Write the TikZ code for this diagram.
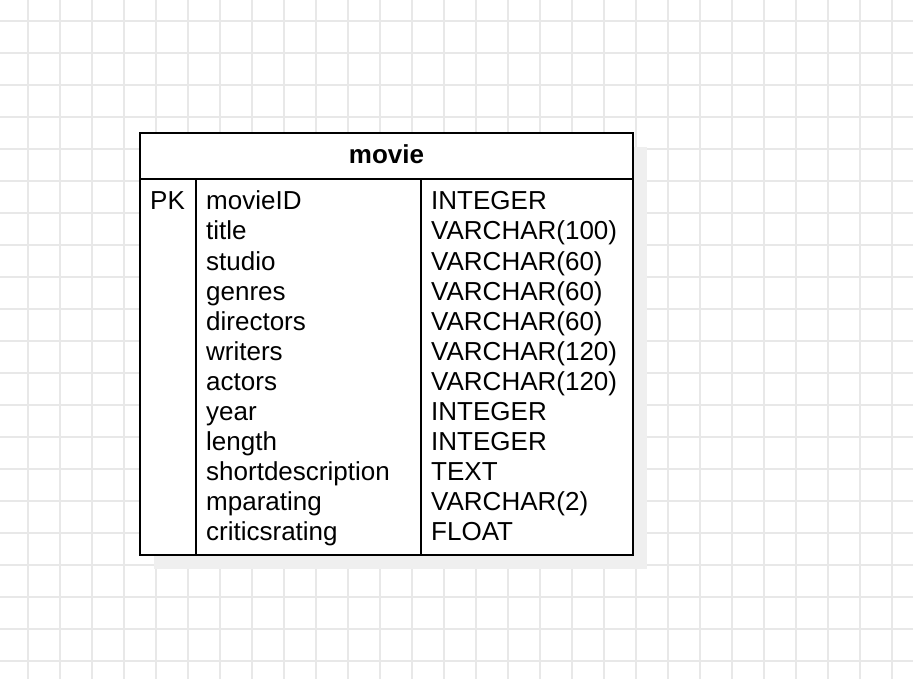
\documentclass[tikz,border=0pt]{standalone}
\usepackage{fontspec}
\setmainfont{Liberation Sans}
\definecolor{gridgray}{HTML}{E8E8E8}
\definecolor{shadowgray}{HTML}{EFEFEF}
\begin{document}
\begin{tikzpicture}[x=1pt,y=-1pt,
    cell/.style={inner sep=0pt,font=\fontsize{26}{30}\selectfont}]
                \useasboundingbox (0,0) rectangle (913,679);
                %% grid
                \foreach \gx in {28,60,...,892} \draw[gridgray,line width=1.5pt] (\gx,0) -- (\gx,679);
                \foreach \gy in {21,53,...,661} \draw[gridgray,line width=1.5pt] (0,\gy) -- (913,\gy);
                %% shadow
                \fill[shadowgray] (154,147) rectangle (647,569);
                %% table
                \draw[line width=2pt,fill=white] (140,133) rectangle (633,555);
                \draw[line width=2pt] (140,179) -- (633,179);
                \draw[line width=2pt] (196,179) -- (196,555);
                \draw[line width=2pt] (421,179) -- (421,555);
                \node[cell,font=\fontsize{26}{30}\selectfont\bfseries,anchor=base] (title) at (386.5,164) {movie};
                %% key
                \node[cell,anchor=base west] (pk) at (150,210) {PK};
                %% fields
                \foreach \fname/\ftype [count=\i from 0] in {movieID/INTEGER,title/VARCHAR(100),studio/VARCHAR(60),genres/VARCHAR(60),directors/VARCHAR(60),writers/VARCHAR(120),actors/VARCHAR(120),year/INTEGER,length/INTEGER,shortdescription/TEXT,mparating/VARCHAR(2),criticsrating/FLOAT}{
                    \node[cell,anchor=base west] (name\i) at (206,210+30*\i) {\fname};
                    \node[cell,anchor=base west] (type\i) at (431,210+30*\i) {\ftype};
                }
            \end{tikzpicture}
\end{document}
